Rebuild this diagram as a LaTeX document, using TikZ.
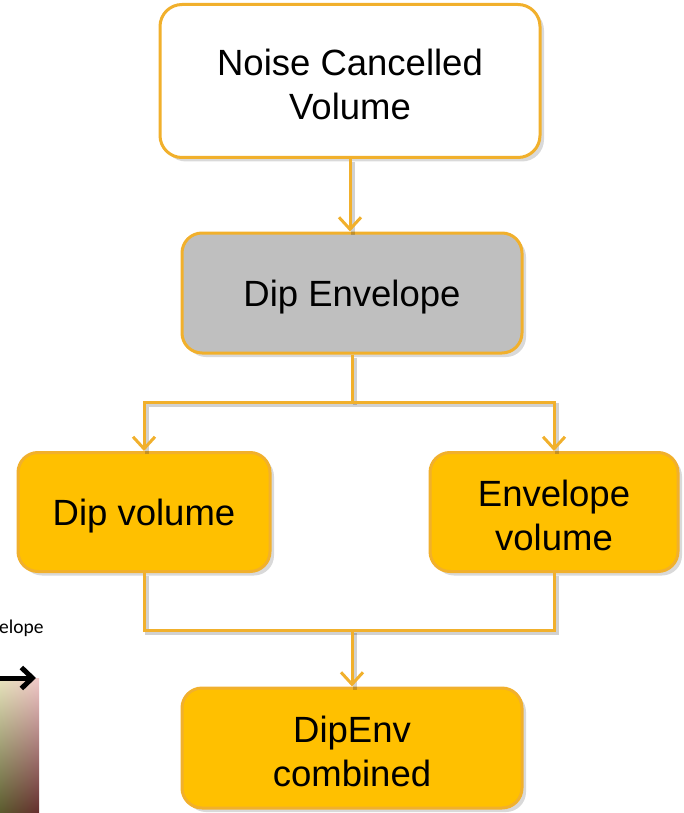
\documentclass[tikz,border=0pt]{standalone}
\usepackage{fontspec}
\setmainfont{Liberation Sans}
\newfontfamily\calib{Carlito}
\usetikzlibrary{arrows.meta,shadows,shadings}
\definecolor{edgeor}{RGB}{241,176,44}
\definecolor{goldf}{RGB}{255,192,0}
\definecolor{boxgray}{RGB}{191,191,191}
\definecolor{gul}{RGB}{232,228,190}
\definecolor{gur}{RGB}{240,200,200}
\definecolor{gll}{RGB}{90,90,45}
\definecolor{glr}{RGB}{100,45,45}
\begin{document}
\begin{tikzpicture}[x=1pt,y=-1pt,
  box/.style={draw=edgeor, line width=3pt, rounded corners=20pt, inner sep=0pt,
    drop shadow={shadow xshift=4pt,shadow yshift=-4pt,opacity=0.3}},
  txt/.style={align=center, inner sep=0pt, font=\fontsize{36.5}{44}\selectfont},
  link/.style={draw=edgeor, line width=3pt},
  lshadow/.style={draw=black, opacity=0.18, line width=3.5pt, transform canvas={xshift=3pt,yshift=-3pt}},
  conn/.style={link, -{Straight Barb[length=12pt,width=22pt]}}]
\useasboundingbox (0,0) rectangle (683,813);

% partial picture fragment at the left edge
\shade[upper left=gul, upper right=gur, lower left=gll, lower right=glr]
  (0,678) rectangle (39,813);
\node[anchor=base west, inner sep=0pt, font=\calib\fontsize{19.5}{22}\selectfont] (lbl) at (-1,633) {elope};
\coordinate (a1) at (0,678);
\coordinate (a2) at (36,678);
\draw[line width=5pt, -{Straight Barb[length=11pt,width=21pt]}] (a1) -- (a2);

% boxes
\node[box, fill=white, minimum width=380pt, minimum height=153pt, rounded corners=22pt] (nc) at (350,81) {};
\node[box, fill=boxgray, minimum width=340pt, minimum height=120pt] (de) at (352,293) {};
\node[box, fill=goldf, minimum width=252pt, minimum height=119pt] (dv) at (144,512) {};
\node[box, fill=goldf, minimum width=248pt, minimum height=119pt] (ev) at (554,512) {};
\node[box, fill=goldf, minimum width=340pt, minimum height=120pt] (dc) at (352,748) {};

% texts
\node[txt] (ncT) at ([yshift=-3pt]nc.center) {Noise Cancelled\\Volume};
\node[txt] (deT) at ([yshift=-4pt]de.center) {Dip Envelope};
\node[txt] (dvT) at ([yshift=-4pt]dv.center) {Dip volume};
\node[txt] (evT) at ([yshift=-3pt]ev.center) {Envelope\\volume};
\node[txt] (dcT) at ([yshift=-3pt]dc.center) {DipEnv\\combined};

\coordinate (j1) at (352,402);
\coordinate (j2) at (352,630);

% connector shadows
\draw[lshadow] (nc.south) -- (nc.south |- de.north);
\draw[lshadow] (de.south) -- (j1);
\draw[lshadow] (dv.north) |- (j1) -| (ev.north);
\draw[lshadow] (dv.south) |- (j2) -| (ev.south);
\draw[lshadow] (j2) -- (dc.north);

% connectors
\draw[conn] (nc.south) -- (nc.south |- de.north);
\draw[link] (de.south) -- (j1);
\draw[conn] (j1) -| (dv.north);
\draw[conn] (j1) -| (ev.north);
\draw[link] (dv.south) |- (j2) -| (ev.south);
\draw[conn] (j2) -- (dc.north);
\end{tikzpicture}
\end{document}
